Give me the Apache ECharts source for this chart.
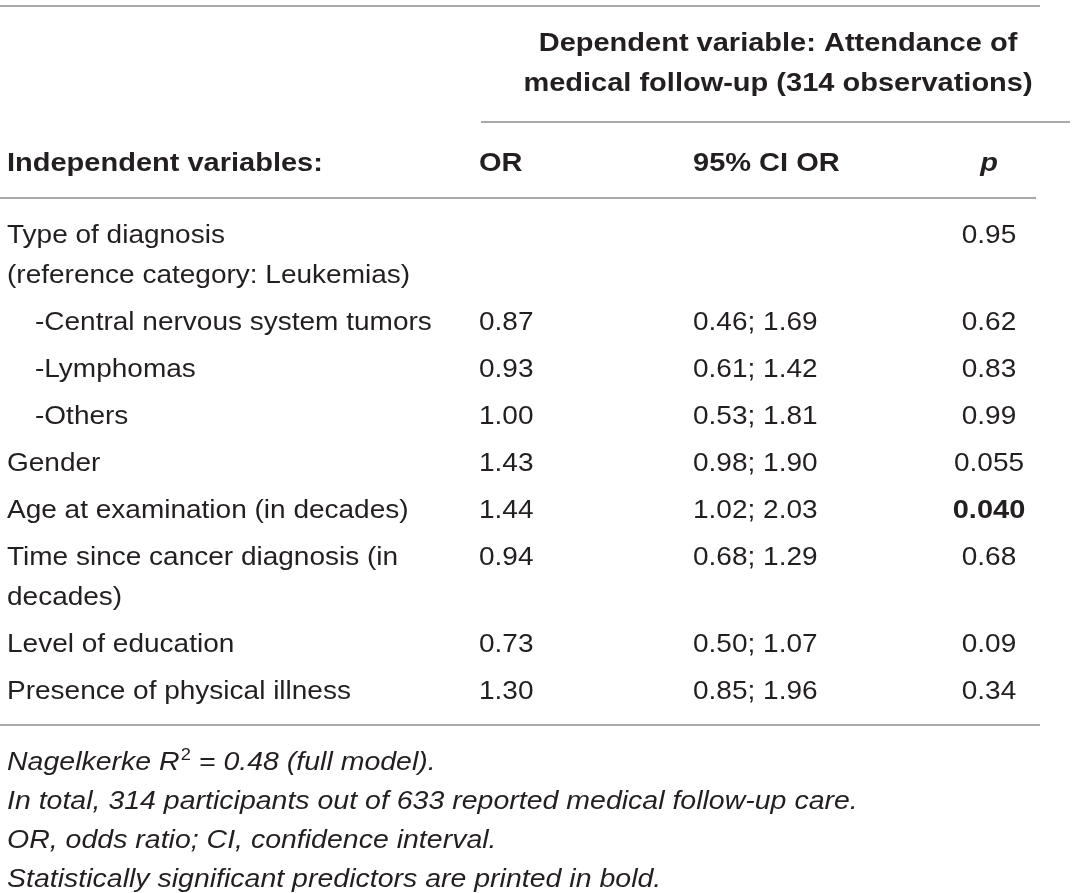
<!DOCTYPE html>
<html>
<head>
<meta charset="utf-8">
<title>Medical follow-up table</title>
<script src="https://cdn.jsdelivr.net/npm/echarts@6/dist/echarts.min.js"></script>
<style>
    html, body { margin: 0; padding: 0; background: #fff; }
    #main { width: 1075px; height: 893px; }
</style>
</head>
<body>
<div id="main"></div>
<script>
// table content
var headerTitle = ['Dependent variable: Attendance of', 'medical follow-up (314 observations)'];
var columnHeads = ['Independent variables:', 'OR', '95% CI OR', 'p'];
var variables = [
    'Type of diagnosis\n(reference category: Leukemias)',
    '-Central nervous system tumors',
    '-Lymphomas',
    '-Others',
    'Gender',
    'Age at examination (in decades)',
    'Time since cancer diagnosis (in\ndecades)',
    'Level of education',
    'Presence of physical illness'
];
var orValues = ['', '0.87', '0.93', '1.00', '1.43', '1.44', '0.94', '0.73', '1.30'];
var ciValues = ['', '0.46; 1.69', '0.61; 1.42', '0.53; 1.81', '0.98; 1.90', '1.02; 2.03', '0.68; 1.29', '0.50; 1.07', '0.85; 1.96'];
var pValues = ['0.95', '0.62', '0.83', '0.99', '0.055', '0.040', '0.68', '0.09', '0.34'];
var significant = [false, false, false, false, false, true, false, false, false];
var footnotes = [
    'In total, 314 participants out of 633 reported medical follow-up care.',
    'OR, odds ratio; CI, confidence interval.',
    'Statistically significant predictors are printed in bold.'
];

var chart = echarts.init(document.getElementById('main'));

var FONT = 'Liberation Sans, Arial, Helvetica, sans-serif';
var INK = '#231f20';
var RULE = '#8c8c8c';
var SIZE = 25;
var DY = 2; // nudge text down a touch
var colX = [7, 479, 693, 989];
var regScale = 1.12, boldScale = 1.16, itScale = 1.14;

function txt(str, x, y, opt) {
    opt = opt || {};
    var bold = opt.bold, italic = opt.italic;
    return {
        type: 'text',
        x: x,
        y: y + DY,
        scaleX: bold ? boldScale : (italic ? itScale : regScale),
        silent: true,
        style: {
            text: str,
            fontFamily: FONT,
            fontSize: SIZE,
            fontWeight: bold ? 'bold' : 'normal',
            fontStyle: italic ? 'italic' : 'normal',
            fill: INK,
            lineHeight: opt.lineHeight || 40,
            align: opt.align || 'left',
            textAlign: opt.align || 'left',
            verticalAlign: 'middle',
            textVerticalAlign: 'middle',
            rich: opt.rich
        }
    };
}

function rule(x1, x2, y) {
    return {
        type: 'line',
        silent: true,
        shape: { x1: x1, y1: y, x2: x2, y2: y },
        style: { stroke: RULE, lineWidth: 1.6 }
    };
}

var els = [];
els.push(rule(0, 1040, 6));
els.push(txt(headerTitle[0], 778, 42, { bold: true, align: 'center' }));
els.push(txt(headerTitle[1], 778, 82, { bold: true, align: 'center' }));
els.push(rule(481, 1070, 122));

els.push(txt(columnHeads[0], colX[0], 162, { bold: true }));
els.push(txt(columnHeads[1], colX[1], 162, { bold: true }));
els.push(txt(columnHeads[2], colX[2], 162, { bold: true }));
els.push({
    type: 'text', x: colX[3], y: 162 + DY, silent: true, scaleX: boldScale,
    style: {
        text: columnHeads[3], fontFamily: FONT, fontSize: SIZE, fontWeight: 'bold',
        fontStyle: 'italic', fill: INK, align: 'center', textAlign: 'center',
        verticalAlign: 'middle', textVerticalAlign: 'middle'
    }
});
els.push(rule(0, 1036, 198));

// body rows: each row starts 47px after the previous row's last line
var y = 234;
variables.forEach(function (name, i) {
    var indent = name.charAt(0) === '-' ? 28 : 0;
    var lines = name.split('\n').length;
    name.split('\n').forEach(function (ln, k) {
        els.push(txt(ln, colX[0] + indent, y + k * 40));
    });
    if (orValues[i]) els.push(txt(orValues[i], colX[1], y));
    if (ciValues[i]) els.push(txt(ciValues[i], colX[2], y));
    els.push(txt(pValues[i], colX[3], y, { bold: significant[i], align: 'center' }));
    y += 47 + (lines - 1) * 40;
});

els.push(rule(0, 1040, 725));

// footnotes
els.push(txt('{a|Nagelkerke R}{s|2}{a| = 0.48 (full model).}', colX[0], 761, {
    italic: true,
    lineHeight: 30,
    rich: {
        a: { fontFamily: FONT, fontSize: SIZE, fontStyle: 'italic', fill: INK, lineHeight: 30 },
        s: { fontFamily: FONT, fontSize: 16, fill: INK, verticalAlign: 'top', lineHeight: 30, padding: [0, 0, 0, 1] }
    }
}));
footnotes.forEach(function (f, i) {
    els.push(txt(f, colX[0], 800 + i * 39, { italic: true }));
});

chart.setOption({
    backgroundColor: '#ffffff',
    animation: false,
    graphic: { elements: els }
});
</script>
</body>
</html>
